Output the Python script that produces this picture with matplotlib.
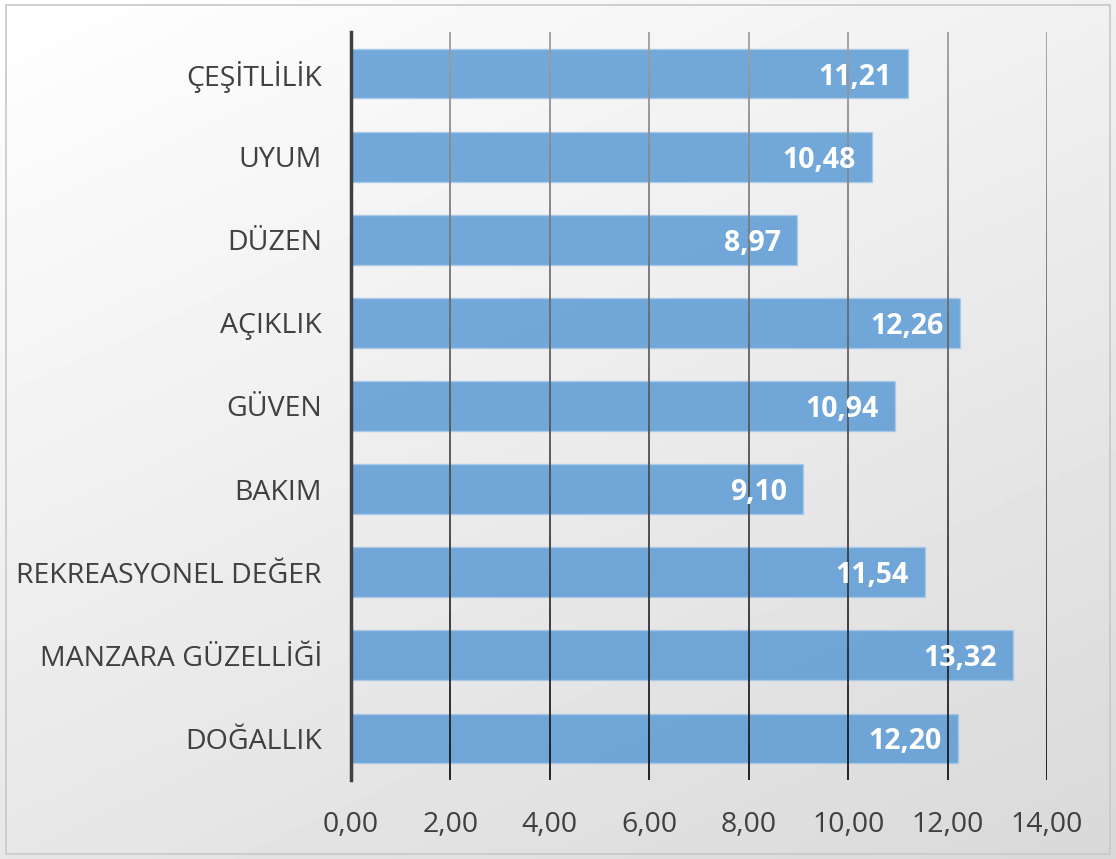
import numpy as np
import matplotlib.pyplot as plt
from matplotlib.patches import Rectangle
from matplotlib.collections import LineCollection

kategoriler = ['ÇEŞİTLİLİK', 'UYUM', 'DÜZEN', 'AÇIKLIK', 'GÜVEN', 'BAKIM',
               'REKREASYONEL DEĞER', 'MANZARA GÜZELLİĞİ', 'DOĞALLIK']
degerler = [11.21, 10.48, 8.97, 12.26, 10.94, 9.10, 11.54, 13.32, 12.20]
x_ticks = [0, 2, 4, 6, 8, 10, 12, 14]

plt.rcParams['font.family'] = ['Open Sans', 'DejaVu Sans']

fig = plt.figure(figsize=(11.16, 8.59), dpi=100)

# arka plan: sol ustten sag alta gri gecis
bg = fig.add_axes([0, 0, 1, 1], zorder=-10)
yy, xx = np.mgrid[0:1:200j, 0:1:200j]
t = np.clip((xx * 0.45 + yy * 0.75) / 1.2, 0, 1)
img = 1.0 - 0.15 * t
bg.imshow(img, cmap='gray', vmin=0, vmax=1, extent=[0, 1, 0, 1],
          aspect='auto', origin='upper')
bg.add_patch(Rectangle((0.005, 0.006), 0.99, 0.988, fill=False,
                       edgecolor='#c8c8c8', lw=1.2, transform=bg.transAxes))
bg.axis('off')

ax = fig.add_axes([351 / 1116, 1 - 780 / 859, 696 / 1116, 748 / 859])
ax.patch.set_alpha(0)

y = np.arange(len(kategoriler))
ax.barh(y, degerler, height=0.6, color='#5b9bd5', alpha=0.85,
        edgecolor='#a9c9ea', lw=1, zorder=3)
ax.set_xlim(0, 14)
ax.set_ylim(len(kategoriler) - 0.5, -0.5)
ax.set_xticks(x_ticks)
ax.set_xticklabels([f'{v:.2f}'.replace('.', ',') for v in x_ticks])
ax.set_yticks(y)
ax.set_yticklabels(kategoriler)

# dikey kilavuz cizgileri: ustte acik gri, altta koyu
ylo, yhi = len(kategoriler) - 0.5, -0.5
n = 40
ys = np.linspace(yhi, ylo, n + 1)
for xv in x_ticks[1:]:
    segs = [[(xv, ys[i]), (xv, ys[i + 1])] for i in range(n)]
    cols = [str(0.62 - 0.55 * i / n) for i in range(n)]
    ax.add_collection(LineCollection(segs, colors=cols, lw=1.3, zorder=4))

ax.tick_params(axis='both', length=0, labelsize=20.5, colors='#404040')
ax.tick_params(axis='x', pad=22)
ax.tick_params(axis='y', pad=21)
for lbl in ax.get_yticklabels():
    lbl.set_verticalalignment('center_baseline')
for s in ['top', 'right', 'bottom']:
    ax.spines[s].set_visible(False)
ax.spines['left'].set_color('#404040')
ax.spines['left'].set_linewidth(2.5)
ax.spines['left'].set_zorder(5)

for yi, v in zip(y, degerler):
    ax.text(v - 0.33, yi, f'{v:.2f}'.replace('.', ','), ha='right',
            va='center_baseline', color='white', fontsize=20.5,
            fontweight='bold', zorder=6)

fig.savefig('out.png', dpi=100)
